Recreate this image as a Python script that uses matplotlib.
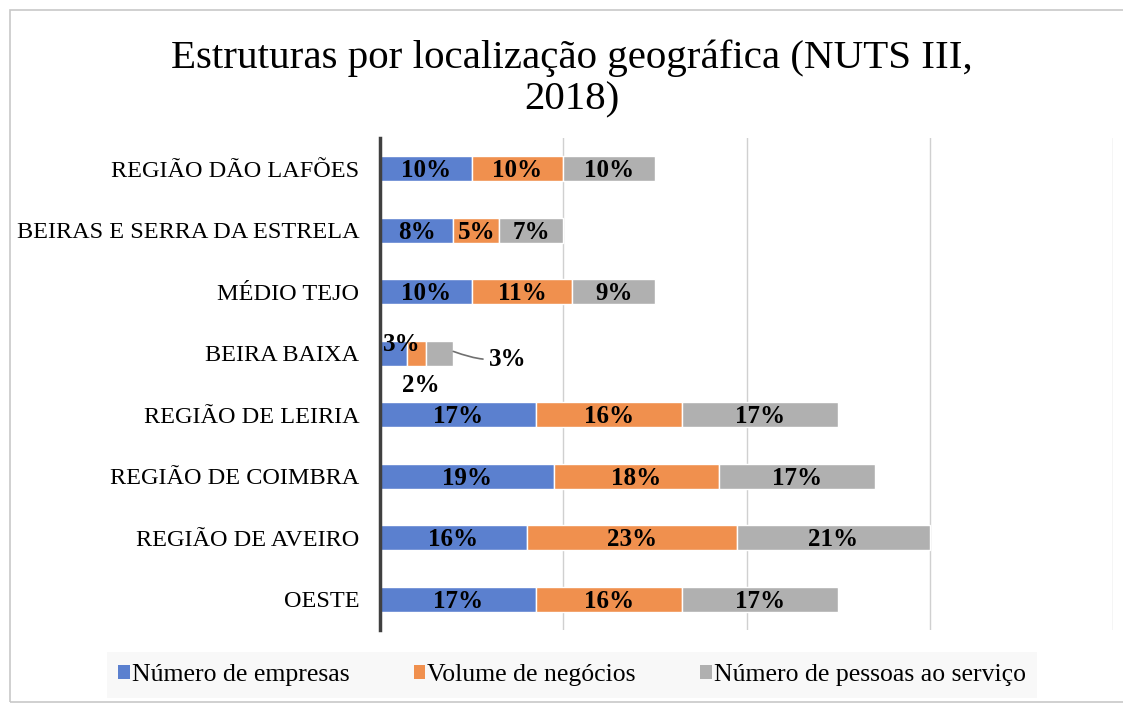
import matplotlib.pyplot as plt
from matplotlib.patches import Patch, Rectangle

plt.rcParams['font.family'] = ['Liberation Serif', 'DejaVu Serif']

regions = ["REGIÃO DÃO LAFÕES", "BEIRAS E SERRA DA ESTRELA", "MÉDIO TEJO",
           "BEIRA BAIXA", "REGIÃO DE LEIRIA", "REGIÃO DE COIMBRA",
           "REGIÃO DE AVEIRO", "OESTE"]
empresas = [10, 8, 10, 3, 17, 19, 16, 17]
negocios = [10, 5, 11, 2, 16, 18, 23, 16]
pessoas = [10, 7, 9, 3, 17, 17, 21, 17]
series_names = ["Número de empresas", "Volume de negócios", "Número de pessoas ao serviço"]
colors = ["#5b80cf", "#f0904e", "#b0b0b0"]

fig = plt.figure(figsize=(11.23, 7.06), dpi=100)
ax = fig.add_axes([380 / 1123, 1 - 630 / 706, (1113 - 380) / 1123, (630 - 138) / 706])

# frame around the whole chart
fig.patches.append(Rectangle((10 / 1123, 4 / 706), 1.2, 1 - 14 / 706, transform=fig.transFigure,
                             fill=False, edgecolor="#c8c8c8", linewidth=1.2))

lab_fs = 18
ypos = list(range(len(regions)))
left = [0] * len(regions)
for vals, name, c in zip([empresas, negocios, pessoas], series_names, colors):
    ax.barh(ypos, vals, left=left, height=0.41, color=c, edgecolor="white", linewidth=1, label=name, zorder=3)
    for i, (l, v) in enumerate(zip(left, vals)):
        if regions[i] == "BEIRA BAIXA":
            continue
        ax.text(l + v / 2, i + 0.03, f"{v}%", ha="center", va="center", fontsize=lab_fs,
                fontweight="bold", color="black", zorder=4)
    left = [a + b for a, b in zip(left, vals)]

# small Beira Baixa labels placed outside the segments
bb = regions.index("BEIRA BAIXA")
ax.text(empresas[bb] / 2 + 0.9, bb - 0.14, f"{empresas[bb]}%", ha="center", va="center",
        fontsize=lab_fs, fontweight="bold", zorder=6)
ax.text(empresas[bb] + negocios[bb] / 2 + 0.5, bb + 0.52, f"{negocios[bb]}%", ha="center", va="center",
        fontsize=lab_fs, fontweight="bold", zorder=6)
ax.annotate(f"{pessoas[bb]}%", xy=(left[bb], bb - 0.03), xytext=(left[bb] + 5.9, bb + 0.1),
            ha="center", va="center", fontsize=lab_fs, fontweight="bold", zorder=6,
            arrowprops=dict(arrowstyle="-", color="#707070", lw=1.2,
                            connectionstyle="angle3,angleA=0,angleB=-20",
                            shrinkA=2, shrinkB=0, relpos=(0, 0.5)))

ax.set_xlim(0, 80)
ax.set_ylim(len(regions) - 0.5, -0.5)
ax.set_xticks([20, 40, 60, 80])
ax.set_xticklabels([])
ax.tick_params(axis="x", length=0)
ax.tick_params(axis="y", length=0, labelsize=17.5, pad=15)
ax.set_yticks(ypos)
ax.set_yticklabels(regions)
ax.grid(axis="x", color="#d0d0d0", linewidth=1, zorder=0)
for s in ["top", "right", "bottom"]:
    ax.spines[s].set_visible(False)
ax.spines["left"].set_color("#404040")
ax.spines["left"].set_linewidth(2.5)
ax.spines["left"].set_zorder(5)

fig.text(572 / 1123, 1 - 79 / 706, "Estruturas por localização geográfica (NUTS III,\n2018)",
         ha="center", va="center", fontsize=29.5, linespacing=1.15)

handles = [Patch(facecolor=c, label=n) for c, n in zip(colors, series_names)]
leg = fig.legend(handles=handles, loc="center", bbox_to_anchor=(572 / 1123, 1 - 675 / 706),
                 ncol=3, fontsize=18.5, frameon=True, facecolor="#f8f8f8", edgecolor="none",
                 handlelength=0.45, handleheight=0.5, handletextpad=0.08, columnspacing=2.5,
                 borderpad=0.45, borderaxespad=0, fancybox=False)
leg.get_frame().set_alpha(1)

plt.savefig("out.png", dpi=100)
plt.close()
